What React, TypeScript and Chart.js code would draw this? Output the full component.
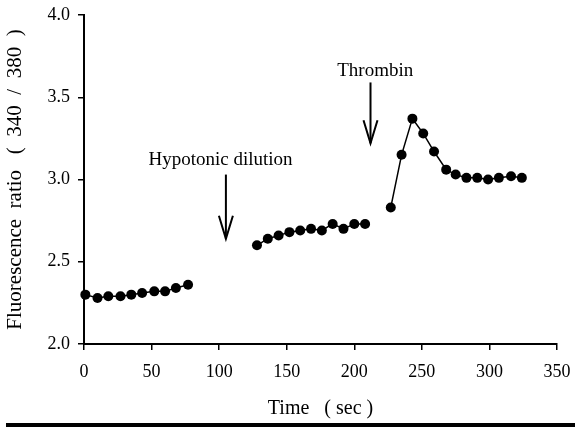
import React, { useEffect, useRef } from 'react';
import { Chart, registerables } from 'chart.js';

Chart.register(...registerables);

// Baseline (before hypotonic dilution)
const time1 = [1, 10, 18, 27, 35, 43, 52, 60, 68, 77];
const ratio1 = [2.30, 2.28, 2.29, 2.29, 2.30, 2.31, 2.32, 2.32, 2.34, 2.36];

// After hypotonic dilution
const time2 = [128, 136, 144, 152, 160, 168, 176, 184, 192, 200, 208];
const ratio2 = [2.60, 2.64, 2.66, 2.68, 2.69, 2.70, 2.69, 2.73, 2.70, 2.73, 2.73];

// After thrombin
const time3 = [227, 235, 243, 251, 259, 268, 275, 283, 291, 299, 307, 316, 324];
const ratio3 = [2.83, 3.15, 3.37, 3.28, 3.17, 3.06, 3.03, 3.01, 3.01, 3.00, 3.01, 3.02, 3.01];

const xTitle = 'Time   ( sec )';
const yTitle = 'Fluorescence  ratio   (  340  /  380  )';

// Annotation labels and arrows, in data units
const annotationLabels = ['Hypotonic dilution', 'Thrombin'];
const annotationTextX = [101, 215.5];
const annotationTextY = [3.12, 3.66];
const annotationArrowX = [105, 212];
const annotationArrowFrom = [3.03, 3.59];
const annotationArrowTo = [2.64, 3.22];

const FONT = "'Liberation Serif', 'Times New Roman', serif";

const toPoints = (xs: number[], ys: number[]) => xs.map((x, i) => ({ x, y: ys[i] }));

const annotationPlugin = {
  id: 'arrowsAnnotations',
  afterDatasetsDraw(chart: any) {
    const { ctx, scales } = chart;
    const xs = scales.x;
    const ys = scales.y;
    ctx.save();
    ctx.fillStyle = '#000';
    ctx.strokeStyle = '#000';
    ctx.font = `19px ${FONT}`;
    ctx.textAlign = 'center';
    ctx.textBaseline = 'middle';
    annotationLabels.forEach((label, i) => {
      ctx.fillText(label, xs.getPixelForValue(annotationTextX[i]), ys.getPixelForValue(annotationTextY[i]));
      const ax = xs.getPixelForValue(annotationArrowX[i]);
      const y1 = ys.getPixelForValue(annotationArrowFrom[i]);
      const y2 = ys.getPixelForValue(annotationArrowTo[i]);
      ctx.lineWidth = 2;
      ctx.beginPath();
      ctx.moveTo(ax, y1);
      ctx.lineTo(ax, y2);
      ctx.stroke();
      ctx.beginPath();
      ctx.moveTo(ax - 7, y2 - 23);
      ctx.lineTo(ax, y2);
      ctx.lineTo(ax + 7, y2 - 23);
      ctx.stroke();
    });
    ctx.restore();
  },
};

export default function App() {
  const canvasRef = useRef<HTMLCanvasElement | null>(null);

  useEffect(() => {
    if (!canvasRef.current) return;
    const common = {
      showLine: true,
      borderColor: '#000',
      backgroundColor: '#000',
      borderWidth: 1.5,
      pointRadius: 5,
      pointBackgroundColor: '#000',
      pointBorderColor: '#000',
      pointBorderWidth: 0,
      clip: false as any,
      tension: 0,
    };
    const chart = new Chart(canvasRef.current, {
      type: 'scatter',
      data: {
        datasets: [
          { ...common, data: toPoints(time1, ratio1) },
          { ...common, data: toPoints(time2, ratio2) },
          { ...common, data: toPoints(time3, ratio3) },
        ],
      },
      options: {
        responsive: false,
        animation: false,
        layout: { padding: { top: 15, right: 18, left: 0, bottom: 0 } },
        plugins: {
          legend: { display: false },
          tooltip: { enabled: false },
        },
        scales: {
          x: {
            type: 'linear',
            min: 0,
            max: 350,
            afterFit: (scale: any) => {
              scale.height = 83;
              scale.paddingLeft = 0;
              scale.paddingRight = 0;
            },
            ticks: {
              stepSize: 50,
              color: '#000',
              font: { family: FONT, size: 18 },
              padding: 11,
            },
            grid: {
              drawOnChartArea: false,
              drawTicks: true,
              tickLength: 6,
              color: '#000',
              lineWidth: 1.5,
            },
            border: { display: true, color: '#000', width: 2 },
            title: {
              display: true,
              text: xTitle,
              color: '#000',
              font: { family: FONT, size: 20 },
              padding: { top: 0, bottom: 6 },
            },
          },
          y: {
            type: 'linear',
            min: 2,
            max: 4,
            afterFit: (scale: any) => {
              scale.width = 84;
              scale.paddingTop = 0;
              scale.paddingBottom = 0;
            },
            ticks: {
              stepSize: 0.5,
              color: '#000',
              font: { family: FONT, size: 18 },
              padding: 8,
              callback: (v: any) => Number(v).toFixed(1),
            },
            grid: {
              drawOnChartArea: false,
              drawTicks: true,
              tickLength: 6,
              color: '#000',
              lineWidth: 1.5,
            },
            border: { display: true, color: '#000', width: 2 },
            title: {
              display: true,
              text: yTitle,
              color: '#000',
              font: { family: FONT, size: 21 },
              padding: { top: 3, bottom: 0 },
            },
          },
        },
      },
      plugins: [annotationPlugin],
    });
    return () => chart.destroy();
  }, []);

  return (
    <div style={{ position: 'fixed', left: 0, top: 0, width: 575, height: 427, background: '#fff' }}>
      <canvas ref={canvasRef} width={575} height={427} style={{ display: 'block' }} />
      <div style={{ position: 'absolute', left: 6, top: 423, width: 569, height: 4, background: '#000' }} />
    </div>
  );
}
